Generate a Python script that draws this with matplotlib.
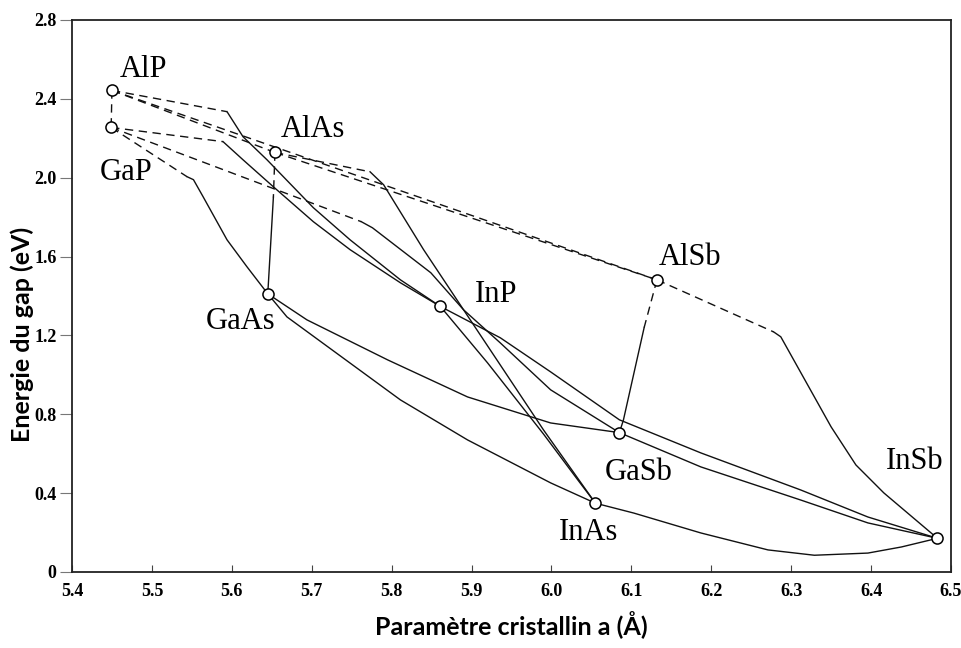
import matplotlib
matplotlib.use("Agg")
import matplotlib.pyplot as plt
from matplotlib.ticker import FixedLocator, FixedFormatter

# Binary III-V compounds: lattice constant (Angstrom) and band gap (eV)
compounds = ["AlP", "GaP", "AlAs", "GaAs", "InP", "AlSb", "GaSb", "InAs", "InSb"]
lattice_a = [5.450, 5.449, 5.654, 5.645, 5.861, 6.132, 6.085, 6.055, 6.483]
gap_ev = [2.443, 2.255, 2.128, 1.411, 1.347, 1.482, 0.707, 0.349, 0.171]

# Ternary alloys: points along each curve. The first `kink` segments are
# indirect gap (dashed), the rest direct gap (solid).
alp_gap_a = [5.450, 5.449]
alp_gap_e = [2.443, 2.255]
alp_alas_a = [5.450, 5.654]
alp_alas_e = [2.443, 2.128]
alp_alsb_a = [5.450, 6.132]
alp_alsb_e = [2.443, 1.482]
alas_alsb_a = [5.654, 6.132]
alas_alsb_e = [2.128, 1.482]
alsb_insb_a = [6.132, 6.278, 6.287, 6.350, 6.381, 6.416, 6.483]
alsb_insb_e = [1.482, 1.218, 1.193, 0.736, 0.543, 0.401, 0.171]
alsb_gasb_a = [6.132, 6.116, 6.090, 6.085]
alsb_gasb_e = [1.482, 1.240, 0.770, 0.707]
alas_gaas_a = [5.654, 5.652, 5.645]
alas_gaas_e = [2.128, 1.900, 1.411]
alas_inas_a = [5.654, 5.773, 5.790, 5.840, 5.890, 5.990, 6.055]
alas_inas_e = [2.128, 2.030, 1.964, 1.635, 1.330, 0.721, 0.349]
alp_inp_a = [5.450, 5.594, 5.614, 5.644, 5.702, 5.748, 5.811, 5.861]
alp_inp_e = [2.443, 2.335, 2.208, 2.091, 1.848, 1.685, 1.482, 1.347]
gap_inp_a = [5.449, 5.589, 5.614, 5.652, 5.702, 5.748, 5.811, 5.861]
gap_inp_e = [2.255, 2.183, 2.091, 1.954, 1.777, 1.635, 1.467, 1.347]
gap_gaas_a = [5.449, 5.544, 5.552, 5.564, 5.594, 5.619, 5.645]
gap_gaas_e = [2.255, 2.005, 1.990, 1.904, 1.685, 1.548, 1.411]
gap_gasb_a = [5.449, 5.762, 5.776, 5.849, 5.890, 5.936, 5.999, 6.085]
gap_gasb_e = [2.255, 1.777, 1.746, 1.518, 1.330, 1.162, 0.924, 0.707]
inp_inas_a = [5.861, 5.920, 5.990, 6.033, 6.055]
inp_inas_e = [1.347, 1.061, 0.700, 0.467, 0.349]
inp_insb_a = [5.861, 5.936, 5.999, 6.085, 6.187, 6.312, 6.396, 6.483]
inp_insb_e = [1.347, 1.188, 1.015, 0.772, 0.604, 0.416, 0.279, 0.171]
gaas_gasb_a = [5.645, 5.694, 5.795, 5.895, 5.999, 6.085]
gaas_gasb_e = [1.411, 1.279, 1.076, 0.888, 0.756, 0.707]
gaas_inas_a = [5.645, 5.669, 5.811, 5.895, 5.999, 6.055]
gaas_inas_e = [1.411, 1.294, 0.873, 0.670, 0.452, 0.349]
gasb_insb_a = [6.085, 6.187, 6.312, 6.396, 6.483]
gasb_insb_e = [0.707, 0.533, 0.365, 0.249, 0.171]
inas_insb_a = [6.055, 6.103, 6.187, 6.271, 6.329, 6.396, 6.438, 6.483]
inas_insb_e = [0.349, 0.299, 0.198, 0.112, 0.085, 0.096, 0.127, 0.171]

# (a, E, number of dashed segments from the start)
curves = [
    (alp_gap_a, alp_gap_e, 1),
    (alp_alas_a, alp_alas_e, 1),
    (alp_alsb_a, alp_alsb_e, 1),
    (alas_alsb_a, alas_alsb_e, 1),
    (alsb_insb_a, alsb_insb_e, 1),
    (alsb_gasb_a, alsb_gasb_e, 1),
    (alas_gaas_a, alas_gaas_e, 1),
    (alas_inas_a, alas_inas_e, 1),
    (alp_inp_a, alp_inp_e, 1),
    (gap_inp_a, gap_inp_e, 1),
    (gap_gaas_a, gap_gaas_e, 1),
    (gap_gasb_a, gap_gasb_e, 1),
    (inp_inas_a, inp_inas_e, 0),
    (inp_insb_a, inp_insb_e, 0),
    (gaas_gasb_a, gaas_gasb_e, 0),
    (gaas_inas_a, gaas_inas_e, 0),
    (gasb_insb_a, gasb_insb_e, 0),
    (inas_insb_a, inas_insb_e, 0),
]

# where each compound name is written
label_a = [5.490, 5.468, 5.701, 5.611, 5.931, 6.174, 6.109, 6.047, 6.454]
label_e = [2.548, 2.025, 2.244, 1.269, 1.406, 1.594, 0.503, 0.198, 0.563]

xticks = [5.4, 5.5, 5.6, 5.7, 5.8, 5.9, 6.0, 6.1, 6.2, 6.3, 6.4, 6.5]
yticks = [0, 0.4, 0.8, 1.2, 1.6, 2.0, 2.4, 2.8]
ytick_labels = ["0", "0.4", "0.8", "1.2", "1.6", "2.0", "2.4", "2.8"]

serif = ["Liberation Serif", "DejaVu Serif"]
sans = ["Lato", "DejaVu Sans"]

fig = plt.figure(figsize=(9.62, 6.48), dpi=100)
ax = fig.add_axes([72 / 962, 76 / 648, 879 / 962, 552 / 648])

lw = 1.0
for a, e, k in curves:
    if k > 0:
        ax.plot(a[:k + 1], e[:k + 1], color="#111", lw=lw, dashes=(6, 4),
                solid_joinstyle="round")
    if k < len(a) - 1:
        ax.plot(a[k:], e[k:], color="#111", lw=lw, solid_joinstyle="round")

ax.plot(lattice_a, gap_ev, "o", ms=8, mfc="white", mec="black", mew=1.1,
        zorder=5)

for name, x, y in zip(compounds, label_a, label_e):
    ax.text(x, y, name, ha="center", va="center", fontsize=22, family=serif)

ax.set_xlim(5.4, 6.5)
ax.set_ylim(0, 2.8)
ax.xaxis.set_major_locator(FixedLocator(xticks))
ax.xaxis.set_major_formatter(FixedFormatter([f"{t:.1f}" for t in xticks]))
ax.yaxis.set_major_locator(FixedLocator(yticks))
ax.yaxis.set_major_formatter(FixedFormatter(ytick_labels))
ax.tick_params(axis="x", direction="in", length=5, width=0.8, color="#444",
               pad=8)
ax.tick_params(axis="y", direction="out", length=9, width=0.8, color="#777",
               pad=2)
for lab in ax.get_xticklabels() + ax.get_yticklabels():
    lab.set_family(serif)
    lab.set_fontsize(13)
    lab.set_fontweight("bold")
for sp in ax.spines.values():
    sp.set_linewidth(1.3)
    sp.set_color("#222")

fig.text(511 / 962, 1 - 625 / 648, "Paramètre cristallin a (Å)",
         ha="center", va="center", fontsize=18, fontweight="bold",
         family=sans)
fig.text(22 / 962, 1 - 334 / 648, "Energie du gap (eV)", rotation=90,
         ha="center", va="center", fontsize=18, fontweight="bold",
         family=sans)

fig.savefig("out.png", dpi=100, facecolor="white")
